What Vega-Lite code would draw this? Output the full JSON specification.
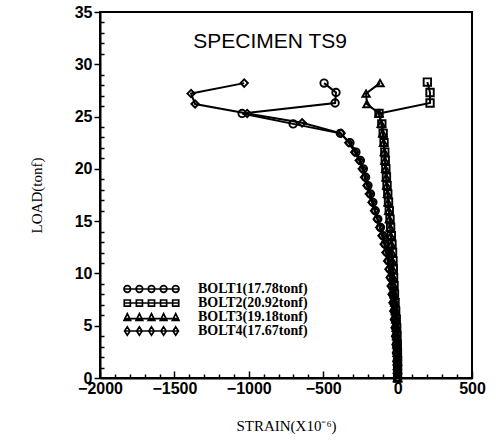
{
  "$schema": "https://vega.github.io/schema/vega-lite/v6.json",
  "width": 372,
  "height": 366,
  "autosize": {"type": "none"},
  "padding": {"left": 100, "top": 12, "right": 24, "bottom": 65},
  "background": "white",
  "config": {
    "view": {"stroke": "black", "strokeWidth": 2},
    "axis": {
      "domainColor": "black", "domainWidth": 2, "grid": false,
      "tickColor": "black", "tickWidth": 1.5, "labelOverlap": false, "labelFlush": false,
      "labelFont": "Liberation Sans", "labelFontSize": 16, "labelFontWeight": "bold", "labelColor": "black",
      "titleFont": "Liberation Serif", "titleFontSize": 15, "titleFontWeight": "normal", "titleColor": "black"
    }
  },
  "resolve": {"axis": {"x": "independent", "y": "independent"}, "scale": {"shape": "independent"}},
  "data": {"values": [
    {"s":"BOLT1(17.78tonf)","i":0,"strain":0,"load":0},
    {"s":"BOLT1(17.78tonf)","i":1,"strain":-1,"load":0.8},
    {"s":"BOLT1(17.78tonf)","i":2,"strain":-3,"load":1.6},
    {"s":"BOLT1(17.78tonf)","i":3,"strain":-5,"load":2.4},
    {"s":"BOLT1(17.78tonf)","i":4,"strain":-8,"load":3.2},
    {"s":"BOLT1(17.78tonf)","i":5,"strain":-11,"load":4.0},
    {"s":"BOLT1(17.78tonf)","i":6,"strain":-14,"load":4.8},
    {"s":"BOLT1(17.78tonf)","i":7,"strain":-18,"load":5.6},
    {"s":"BOLT1(17.78tonf)","i":8,"strain":-22,"load":6.4},
    {"s":"BOLT1(17.78tonf)","i":9,"strain":-27,"load":7.2},
    {"s":"BOLT1(17.78tonf)","i":10,"strain":-32,"load":8.0},
    {"s":"BOLT1(17.78tonf)","i":11,"strain":-38,"load":8.8},
    {"s":"BOLT1(17.78tonf)","i":12,"strain":-45,"load":9.6},
    {"s":"BOLT1(17.78tonf)","i":13,"strain":-52,"load":10.4},
    {"s":"BOLT1(17.78tonf)","i":14,"strain":-60,"load":11.2},
    {"s":"BOLT1(17.78tonf)","i":15,"strain":-71,"load":12.0},
    {"s":"BOLT1(17.78tonf)","i":16,"strain":-84,"load":12.8},
    {"s":"BOLT1(17.78tonf)","i":17,"strain":-98,"load":13.6},
    {"s":"BOLT1(17.78tonf)","i":18,"strain":-115,"load":14.4},
    {"s":"BOLT1(17.78tonf)","i":19,"strain":-133,"load":15.2},
    {"s":"BOLT1(17.78tonf)","i":20,"strain":-150,"load":16.0},
    {"s":"BOLT1(17.78tonf)","i":21,"strain":-166,"load":16.8},
    {"s":"BOLT1(17.78tonf)","i":22,"strain":-182,"load":17.6},
    {"s":"BOLT1(17.78tonf)","i":23,"strain":-199,"load":18.4},
    {"s":"BOLT1(17.78tonf)","i":24,"strain":-215,"load":19.2},
    {"s":"BOLT1(17.78tonf)","i":25,"strain":-230,"load":20.0},
    {"s":"BOLT1(17.78tonf)","i":26,"strain":-250,"load":20.8},
    {"s":"BOLT1(17.78tonf)","i":27,"strain":-280,"load":21.6},
    {"s":"BOLT1(17.78tonf)","i":28,"strain":-320,"load":22.5},
    {"s":"BOLT1(17.78tonf)","i":29,"strain":-385,"load":23.4},
    {"s":"BOLT1(17.78tonf)","i":30,"strain":-702,"load":24.3},
    {"s":"BOLT1(17.78tonf)","i":31,"strain":-1045,"load":25.3},
    {"s":"BOLT1(17.78tonf)","i":32,"strain":-420,"load":26.3},
    {"s":"BOLT1(17.78tonf)","i":33,"strain":-414,"load":27.3},
    {"s":"BOLT1(17.78tonf)","i":34,"strain":-494,"load":28.2},
    {"s":"BOLT2(20.92tonf)","i":0,"strain":0,"load":0},
    {"s":"BOLT2(20.92tonf)","i":1,"strain":0,"load":0.8},
    {"s":"BOLT2(20.92tonf)","i":2,"strain":0,"load":1.6},
    {"s":"BOLT2(20.92tonf)","i":3,"strain":-1,"load":2.4},
    {"s":"BOLT2(20.92tonf)","i":4,"strain":-2,"load":3.2},
    {"s":"BOLT2(20.92tonf)","i":5,"strain":-4,"load":4.0},
    {"s":"BOLT2(20.92tonf)","i":6,"strain":-6,"load":4.8},
    {"s":"BOLT2(20.92tonf)","i":7,"strain":-9,"load":5.6},
    {"s":"BOLT2(20.92tonf)","i":8,"strain":-13,"load":6.4},
    {"s":"BOLT2(20.92tonf)","i":9,"strain":-17,"load":7.2},
    {"s":"BOLT2(20.92tonf)","i":10,"strain":-21,"load":8.0},
    {"s":"BOLT2(20.92tonf)","i":11,"strain":-24,"load":8.8},
    {"s":"BOLT2(20.92tonf)","i":12,"strain":-27,"load":9.6},
    {"s":"BOLT2(20.92tonf)","i":13,"strain":-29,"load":10.4},
    {"s":"BOLT2(20.92tonf)","i":14,"strain":-31,"load":11.2},
    {"s":"BOLT2(20.92tonf)","i":15,"strain":-34,"load":12.0},
    {"s":"BOLT2(20.92tonf)","i":16,"strain":-38,"load":12.8},
    {"s":"BOLT2(20.92tonf)","i":17,"strain":-42,"load":13.6},
    {"s":"BOLT2(20.92tonf)","i":18,"strain":-47,"load":14.4},
    {"s":"BOLT2(20.92tonf)","i":19,"strain":-51,"load":15.2},
    {"s":"BOLT2(20.92tonf)","i":20,"strain":-56,"load":16.0},
    {"s":"BOLT2(20.92tonf)","i":21,"strain":-61,"load":16.8},
    {"s":"BOLT2(20.92tonf)","i":22,"strain":-66,"load":17.6},
    {"s":"BOLT2(20.92tonf)","i":23,"strain":-71,"load":18.4},
    {"s":"BOLT2(20.92tonf)","i":24,"strain":-75,"load":19.2},
    {"s":"BOLT2(20.92tonf)","i":25,"strain":-79,"load":20.0},
    {"s":"BOLT2(20.92tonf)","i":26,"strain":-83,"load":20.8},
    {"s":"BOLT2(20.92tonf)","i":27,"strain":-86,"load":21.6},
    {"s":"BOLT2(20.92tonf)","i":28,"strain":-91,"load":22.5},
    {"s":"BOLT2(20.92tonf)","i":29,"strain":-97,"load":23.4},
    {"s":"BOLT2(20.92tonf)","i":30,"strain":-106,"load":24.3},
    {"s":"BOLT2(20.92tonf)","i":31,"strain":-125,"load":25.3},
    {"s":"BOLT2(20.92tonf)","i":32,"strain":218,"load":26.3},
    {"s":"BOLT2(20.92tonf)","i":33,"strain":218,"load":27.3},
    {"s":"BOLT2(20.92tonf)","i":34,"strain":200,"load":28.3},
    {"s":"BOLT3(19.18tonf)","i":0,"strain":0,"load":0},
    {"s":"BOLT3(19.18tonf)","i":1,"strain":-1,"load":0.8},
    {"s":"BOLT3(19.18tonf)","i":2,"strain":-2,"load":1.6},
    {"s":"BOLT3(19.18tonf)","i":3,"strain":-3,"load":2.4},
    {"s":"BOLT3(19.18tonf)","i":4,"strain":-5,"load":3.2},
    {"s":"BOLT3(19.18tonf)","i":5,"strain":-7,"load":4.0},
    {"s":"BOLT3(19.18tonf)","i":6,"strain":-9,"load":4.8},
    {"s":"BOLT3(19.18tonf)","i":7,"strain":-12,"load":5.6},
    {"s":"BOLT3(19.18tonf)","i":8,"strain":-15,"load":6.4},
    {"s":"BOLT3(19.18tonf)","i":9,"strain":-19,"load":7.2},
    {"s":"BOLT3(19.18tonf)","i":10,"strain":-23,"load":8.0},
    {"s":"BOLT3(19.18tonf)","i":11,"strain":-26,"load":8.8},
    {"s":"BOLT3(19.18tonf)","i":12,"strain":-29,"load":9.6},
    {"s":"BOLT3(19.18tonf)","i":13,"strain":-32,"load":10.4},
    {"s":"BOLT3(19.18tonf)","i":14,"strain":-35,"load":11.2},
    {"s":"BOLT3(19.18tonf)","i":15,"strain":-38,"load":12.0},
    {"s":"BOLT3(19.18tonf)","i":16,"strain":-42,"load":12.8},
    {"s":"BOLT3(19.18tonf)","i":17,"strain":-46,"load":13.6},
    {"s":"BOLT3(19.18tonf)","i":18,"strain":-50,"load":14.4},
    {"s":"BOLT3(19.18tonf)","i":19,"strain":-55,"load":15.2},
    {"s":"BOLT3(19.18tonf)","i":20,"strain":-59,"load":16.0},
    {"s":"BOLT3(19.18tonf)","i":21,"strain":-64,"load":16.8},
    {"s":"BOLT3(19.18tonf)","i":22,"strain":-68,"load":17.6},
    {"s":"BOLT3(19.18tonf)","i":23,"strain":-73,"load":18.4},
    {"s":"BOLT3(19.18tonf)","i":24,"strain":-77,"load":19.2},
    {"s":"BOLT3(19.18tonf)","i":25,"strain":-81,"load":20.0},
    {"s":"BOLT3(19.18tonf)","i":26,"strain":-85,"load":20.8},
    {"s":"BOLT3(19.18tonf)","i":27,"strain":-89,"load":21.6},
    {"s":"BOLT3(19.18tonf)","i":28,"strain":-94,"load":22.5},
    {"s":"BOLT3(19.18tonf)","i":29,"strain":-100,"load":23.4},
    {"s":"BOLT3(19.18tonf)","i":30,"strain":-110,"load":24.3},
    {"s":"BOLT3(19.18tonf)","i":31,"strain":-125,"load":25.3},
    {"s":"BOLT3(19.18tonf)","i":32,"strain":-206,"load":26.2},
    {"s":"BOLT3(19.18tonf)","i":33,"strain":-212,"load":27.2},
    {"s":"BOLT3(19.18tonf)","i":34,"strain":-118,"load":28.2},
    {"s":"BOLT4(17.67tonf)","i":0,"strain":0,"load":0},
    {"s":"BOLT4(17.67tonf)","i":1,"strain":-2,"load":0.8},
    {"s":"BOLT4(17.67tonf)","i":2,"strain":-4,"load":1.6},
    {"s":"BOLT4(17.67tonf)","i":3,"strain":-7,"load":2.4},
    {"s":"BOLT4(17.67tonf)","i":4,"strain":-10,"load":3.2},
    {"s":"BOLT4(17.67tonf)","i":5,"strain":-13,"load":4.0},
    {"s":"BOLT4(17.67tonf)","i":6,"strain":-17,"load":4.8},
    {"s":"BOLT4(17.67tonf)","i":7,"strain":-21,"load":5.6},
    {"s":"BOLT4(17.67tonf)","i":8,"strain":-26,"load":6.4},
    {"s":"BOLT4(17.67tonf)","i":9,"strain":-31,"load":7.2},
    {"s":"BOLT4(17.67tonf)","i":10,"strain":-37,"load":8.0},
    {"s":"BOLT4(17.67tonf)","i":11,"strain":-43,"load":8.8},
    {"s":"BOLT4(17.67tonf)","i":12,"strain":-50,"load":9.6},
    {"s":"BOLT4(17.67tonf)","i":13,"strain":-58,"load":10.4},
    {"s":"BOLT4(17.67tonf)","i":14,"strain":-67,"load":11.2},
    {"s":"BOLT4(17.67tonf)","i":15,"strain":-78,"load":12.0},
    {"s":"BOLT4(17.67tonf)","i":16,"strain":-90,"load":12.8},
    {"s":"BOLT4(17.67tonf)","i":17,"strain":-105,"load":13.6},
    {"s":"BOLT4(17.67tonf)","i":18,"strain":-120,"load":14.4},
    {"s":"BOLT4(17.67tonf)","i":19,"strain":-137,"load":15.2},
    {"s":"BOLT4(17.67tonf)","i":20,"strain":-155,"load":16.0},
    {"s":"BOLT4(17.67tonf)","i":21,"strain":-172,"load":16.8},
    {"s":"BOLT4(17.67tonf)","i":22,"strain":-190,"load":17.6},
    {"s":"BOLT4(17.67tonf)","i":23,"strain":-206,"load":18.4},
    {"s":"BOLT4(17.67tonf)","i":24,"strain":-222,"load":19.2},
    {"s":"BOLT4(17.67tonf)","i":25,"strain":-238,"load":20.0},
    {"s":"BOLT4(17.67tonf)","i":26,"strain":-258,"load":20.8},
    {"s":"BOLT4(17.67tonf)","i":27,"strain":-288,"load":21.6},
    {"s":"BOLT4(17.67tonf)","i":28,"strain":-328,"load":22.5},
    {"s":"BOLT4(17.67tonf)","i":29,"strain":-380,"load":23.4},
    {"s":"BOLT4(17.67tonf)","i":30,"strain":-642,"load":24.4},
    {"s":"BOLT4(17.67tonf)","i":31,"strain":-1011,"load":25.3},
    {"s":"BOLT4(17.67tonf)","i":32,"strain":-1361,"load":26.2},
    {"s":"BOLT4(17.67tonf)","i":33,"strain":-1388,"load":27.2},
    {"s":"BOLT4(17.67tonf)","i":34,"strain":-1031,"load":28.2}
  ]},
  "layer": [
    {
      "mark": {"type": "line", "color": "black", "strokeWidth": 2},
      "encoding": {
        "x": {"field": "strain", "type": "quantitative",
          "scale": {"domain": [-2000, 500], "nice": false, "zero": false},
          "axis": {
            "orient": "bottom", "title": "STRAIN(X10⁻⁶)", "titlePadding": 22,
            "values": [-2000,-1500,-1000,-500,0,500], "format": "d",
            "tickSize": -7, "labelPadding": 9
          }},
        "y": {"field": "load", "type": "quantitative",
          "scale": {"domain": [0, 35], "nice": false, "zero": false},
          "axis": {
            "orient": "left", "title": "LOAD(tonf)", "titlePadding": 30,
            "values": [0,5,10,15,20,25,30,35], "format": "d",
            "tickSize": 6, "labelPadding": 2
          }},
        "detail": {"field": "s", "type": "nominal"},
        "order": {"field": "i", "type": "quantitative"}
      }
    },
    {
      "mark": {"type": "point", "filled": false, "color": "black", "opacity": 1, "strokeWidth": 1.9, "size": 55},
      "encoding": {
        "x": {"field": "strain", "type": "quantitative",
          "axis": {"orient": "bottom", "title": null, "labels": false, "domain": false, "tickSize": -4,
            "values": [-1900,-1800,-1700,-1600,-1400,-1300,-1200,-1100,-900,-800,-700,-600,-400,-300,-200,-100,100,200,300,400]}},
        "y": {"field": "load", "type": "quantitative",
          "axis": {"orient": "left", "title": null, "labels": false, "domain": false, "tickSize": -4,
            "values": [1,2,3,4,6,7,8,9,11,12,13,14,16,17,18,19,21,22,23,24,26,27,28,29,31,32,33,34]}},
        "shape": {"field": "s", "type": "nominal", "legend": null,
          "scale": {"domain": ["BOLT1(17.78tonf)","BOLT2(20.92tonf)","BOLT3(19.18tonf)","BOLT4(17.67tonf)"],
                    "range": ["circle","square","triangle-up","diamond"]}}
      }
    },
    {
      "transform": [{"filter": "false"}],
      "mark": {"type": "point", "filled": false, "color": "black", "opacity": 1, "strokeWidth": 1.7, "size": 3025},
      "encoding": {
        "x": {"field": "strain", "type": "quantitative", "axis": null},
        "y": {"field": "load", "type": "quantitative", "axis": null},
        "shape": {"field": "s", "type": "nominal",
          "scale": {"domain": ["BOLT1(17.78tonf)","BOLT2(20.92tonf)","BOLT3(19.18tonf)","BOLT4(17.67tonf)"],
            "range": [
              "M-1,0H1M-0.76,0A0.12,0.12 0 1,1 -1,0A0.12,0.12 0 1,1 -0.76,0M-0.32,0A0.12,0.12 0 1,1 -0.56,0A0.12,0.12 0 1,1 -0.32,0M0.12,0A0.12,0.12 0 1,1 -0.12,0A0.12,0.12 0 1,1 0.12,0M0.56,0A0.12,0.12 0 1,1 0.32,0A0.12,0.12 0 1,1 0.56,0M1,0A0.12,0.12 0 1,1 0.76,0A0.12,0.12 0 1,1 1,0",
              "M-1,0H1M-0.99,-0.11h0.22v0.22h-0.22ZM-0.55,-0.11h0.22v0.22h-0.22ZM-0.11,-0.11h0.22v0.22h-0.22ZM0.33,-0.11h0.22v0.22h-0.22ZM0.77,-0.11h0.22v0.22h-0.22Z",
              "M-1,0.06H1M-0.88,-0.12L-0.76,0.12L-1,0.12ZM-0.44,-0.12L-0.32,0.12L-0.56,0.12ZM0,-0.12L0.12,0.12L-0.12,0.12ZM0.44,-0.12L0.56,0.12L0.32,0.12ZM0.88,-0.12L1,0.12L0.76,0.12Z",
              "M-1,0H1M-0.88,-0.15L-0.78,0L-0.88,0.15L-0.98,0ZM-0.44,-0.15L-0.34,0L-0.44,0.15L-0.54,0ZM0,-0.15L0.1,0L0,0.15L-0.1,0ZM0.44,-0.15L0.54,0L0.44,0.15L0.34,0ZM0.88,-0.15L0.98,0L0.88,0.15L0.78,0Z"
            ]},
          "legend": {
            "title": null, "orient": "none", "legendX": 23, "legendY": 270, "padding": 0,
            "symbolSize": 3025, "clipHeight": 14, "rowPadding": 0, "labelOffset": 18, "labelLimit": 300,
            "labelFont": "Liberation Serif", "labelFontSize": 14, "labelFontWeight": "bold", "labelColor": "black",
            "symbolStrokeWidth": 1.7, "symbolStrokeColor": "black", "symbolFillColor": "transparent", "symbolOpacity": 1
          }
        }
      }
    },
    {
      "data": {"values": [{"label": "SPECIMEN TS9"}]},
      "mark": {"type": "text", "font": "Liberation Sans", "fontSize": 21, "color": "black", "align": "center", "baseline": "middle"},
      "encoding": {
        "x": {"datum": -857, "type": "quantitative", "axis": null},
        "y": {"datum": 32.1, "type": "quantitative", "axis": null},
        "text": {"field": "label"}
      }
    }
  ]
}
